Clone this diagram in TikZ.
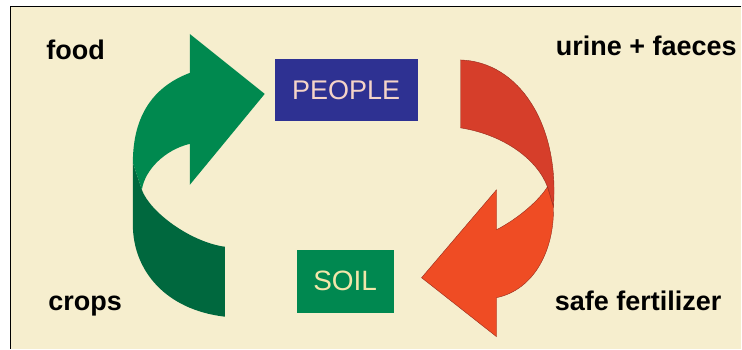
\documentclass[tikz,border=0pt]{standalone}
\usepackage{fontspec}
\setmainfont{Liberation Sans}

\definecolor{bgcream}{RGB}{246,238,206}
\definecolor{peopleblue}{RGB}{46,49,146}
\definecolor{peopletext}{RGB}{245,212,200}
\definecolor{soilgreen}{RGB}{0,136,80}
\definecolor{soiltext}{RGB}{242,230,170}
\definecolor{leafgreen}{RGB}{0,137,79}
\definecolor{darkleaf}{RGB}{0,104,62}
\definecolor{rustred}{RGB}{214,62,42}
\definecolor{flamered}{RGB}{239,76,36}

\newcommand{\lblsize}{27}
\newcommand{\lbn}{\node[anchor=base west, font=\fontsize{\lblsize}{\lblsize}\bfseries\selectfont]}
\newcommand{\bxn}{\node[inner sep=0pt]}

\begin{document}
\begin{tikzpicture}[x=1pt, y=-1pt]
            \fill[white] (0,0) rectangle (742,349);
            \fill[bgcream] (10.5,6.5) rectangle (742,349);
            \draw[line width=1.5pt] (742,6.5) -- (10.5,6.5) -- (10.5,349);
            \useasboundingbox (0,0) rectangle (742,349);

            % green arrow, back then front
            \fill[darkleaf] (142,190) .. controls (150,212) and (190,242) .. (225,247)
                -- (225,317) .. controls (165,310) and (133,270) .. (133,225)
                -- (133,163) -- cycle;
            \fill[leafgreen] (265,94) -- (190,34) -- (190,73)
                .. controls (150,88) and (133,120) .. (133,163)
                -- (142,190) .. controls (145,170) and (165,150) .. (190,144)
                -- (190,185) -- cycle;

            % red arrow
            \filldraw[fill=rustred, draw=rustred!70!black, line width=0.4pt]
                (461,60) -- (461,128) .. controls (505,135) and (538,160) .. (548,187)
                -- (554,207) .. controls (560,125) and (520,62) .. (461,60) -- cycle;
            \filldraw[fill=flamered, draw=rustred!70!black, line width=0.4pt]
                (422,278) -- (497,190) -- (497,230)
                .. controls (520,218) and (540,200) .. (548,187)
                -- (554,207) .. controls (555,250) and (535,290) .. (497,298)
                -- (497,337) -- cycle;

            \bxn[fill=peopleblue, text=peopletext, minimum width=143pt, minimum height=62pt,
                font=\fontsize{27}{27}\selectfont] (people) at (346.5,90) {PEOPLE};
            \bxn[fill=soilgreen, text=soiltext, minimum width=97pt, minimum height=63pt,
                font=\fontsize{28}{28}\selectfont] (soil) at (345.5,281.5) {SOIL};

            \lbn (food) at (43,60) {food};
            \lbn (urine) at (553,56) {urine + faeces};
            \lbn (crops) at (45,311) {crops};
            \lbn (fert) at (552,311) {safe fertilizer};
        \end{tikzpicture}
\end{document}
